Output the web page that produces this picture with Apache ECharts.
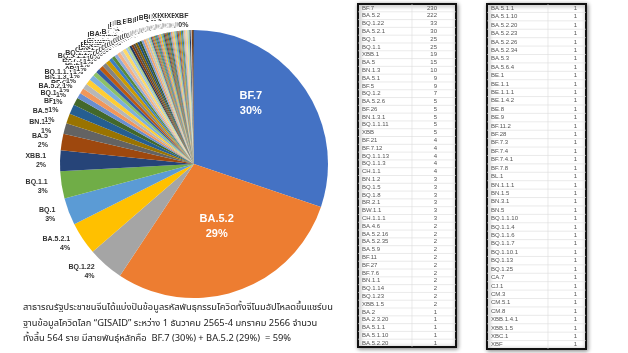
<!DOCTYPE html>
<html>
<head>
<meta charset="utf-8">
<script src="https://cdn.jsdelivr.net/npm/echarts@6/dist/echarts.min.js"></script>
<style>
  html, body { margin: 0; padding: 0; background: #fff; }
  #chart { width: 628px; height: 353px; }
</style>
</head>
<body>
<div id="chart"></div>
<script>
// left table (as shown in the screenshot)
const leftNames = ['BF.7', 'BA.5.2', 'BQ.1.22', 'BA.5.2.1', 'BQ.1', 'BQ.1.1', 'XBB.1', 'BA.5', 'BN.1.3', 'BA.5.1',
  'BF.5', 'BQ.1.2', 'BA.5.2.6', 'BF.26', 'BN.1.3.1', 'BQ.1.1.11', 'XBB', 'BF.21', 'BF.7.12', 'BQ.1.1.13',
  'BQ.1.1.3', 'CH.1.1', 'BN.1.2', 'BQ.1.5', 'BQ.1.8', 'BR.2.1', 'BW.1.1', 'CH.1.1.1', 'BA.4.6', 'BA.5.2.16',
  'BA.5.2.35', 'BA.5.9', 'BF.11', 'BF.27', 'BF.7.6', 'BN.1.1', 'BQ.1.14', 'BQ.1.23', 'XBB.1.5', 'BA.2',
  'BA.2.3.20', 'BA.5.1.1', 'BA.5.1.10', 'BA.5.2.20']
const leftCounts = [230, 222, 33, 30, 25, 25, 19, 15, 10, 9,
  9, 7, 5, 5, 5, 5, 5, 4, 4, 4,
  4, 4, 3, 3, 3, 3, 3, 3, 2, 2,
  2, 2, 2, 2, 2, 2, 2, 2, 2, 1,
  1, 1, 1, 1]

// right table (its first three rows repeat the end of the left one)
const rightNames = ['BA.5.1.1', 'BA.5.1.10', 'BA.5.2.20', 'BA.5.2.23', 'BA.5.2.26', 'BA.5.2.34', 'BA.5.3', 'BA.5.6.4',
  'BE.1', 'BE.1.1', 'BE.1.1.1', 'BE.1.4.2', 'BE.8', 'BE.9', 'BF.11.2', 'BF.28', 'BF.7.3', 'BF.7.4', 'BF.7.4.1',
  'BF.7.8', 'BL.1', 'BN.1.1.1', 'BN.1.5', 'BN.3.1', 'BN.5', 'BQ.1.1.10', 'BQ.1.1.4', 'BQ.1.1.6', 'BQ.1.1.7',
  'BQ.1.10.1', 'BQ.1.13', 'BQ.1.25', 'CA.7', 'CJ.1', 'CM.3', 'CM.5.1', 'CM.8', 'XBB.1.4.1', 'XBB.1.5', 'XBC.1', 'XBF']
const rightCounts = [1, 1, 1, 1, 1, 1, 1, 1,
  1, 1, 1, 1, 1, 1, 1, 1, 1, 1, 1,
  1, 1, 1, 1, 1, 1, 1, 1, 1, 1,
  1, 1, 1, 1, 1, 1, 1, 1, 1, 1, 1, 1]

const captionLines = [
  'สาธารณรัฐประชาชนจีนได้แบ่งปันข้อมูลรหัสพันธุกรรมโควิดทั้งจีโนมอัปโหลดขึ้นแชร์บน',
  'ฐานข้อมูลโควิดโลก “GISAID” ระหว่าง 1 ธันวาคม 2565-4 มกราคม 2566 จำนวน',
  'ทั้งสิ้น 564 ราย มีสายพันธุ์หลักคือ  BF.7 (30%) + BA.5.2 (29%)  = 59%'
]

// office-like palette with shade variations
const palette = [
  '#4472C4', '#ED7D31', '#A5A5A5', '#FFC000', '#5B9BD5', '#70AD47',
  '#264478', '#9E480E', '#636363', '#997300', '#255E91', '#43682B',
  '#698ED0', '#F1975A', '#B7B7B7', '#FFCD33', '#7CAFDD', '#8CC168',
  '#335AA1', '#BE5A0F', '#848484', '#CC9A00', '#3C7DC4', '#5A8A39',
  '#8FAADC', '#F4B183', '#C9C9C9', '#FFD966', '#9DC3E6', '#A9D18E',
  '#203864', '#843C0C', '#525252', '#7F6000', '#1F4E79', '#385723',
  '#7C9CD6', '#F2A46C', '#C0C0C0', '#FFD34D', '#8BB8E1', '#9BC97B',
  '#2F5496', '#C55A11', '#7B7B7B', '#BF9000', '#2E75B6', '#548235'
]

const pieNames = leftNames.concat(rightNames.slice(3))
const pieCounts = leftCounts.concat(rightCounts.slice(3))
const total = pieCounts.reduce((a, b) => a + b, 0)

const pieData = pieNames.map((name, i) => {
  const item = { name, value: pieCounts[i] }
  if (i < 2) {
    item.label = { position: 'inside', color: '#fff', fontSize: 11, lineHeight: 15 }
  }
  return item
})

function tableGraphic(names, counts, box) {
  const children = []
  const rowH = (box.bottom - box.top) / names.length
  children.push({
    type: 'rect',
    shape: { x: box.left, y: box.top, width: box.right - box.left, height: box.bottom - box.top },
    style: { fill: '#fff', stroke: '#111', lineWidth: 2, shadowBlur: 4, shadowColor: 'rgba(0,0,0,0.45)', shadowOffsetX: 1, shadowOffsetY: 1 }
  })
  names.forEach((name, i) => {
    const y = box.top + rowH * i
    if (i > 0) {
      children.push({
        type: 'line',
        shape: { x1: box.left, y1: y, x2: box.right, y2: y },
        style: { stroke: '#dcdcdc', lineWidth: 0.6 }
      })
    }
    children.push({
      type: 'text',
      style: { text: name, x: box.left + 4, y: y + rowH / 2, fontSize: 6, fill: '#555', verticalAlign: 'middle', fontFamily: 'Liberation Sans' }
    })
    children.push({
      type: 'text',
      style: { text: String(counts[i]), x: box.valueX, y: y + rowH / 2, fontSize: 6, fill: '#555', align: 'right', verticalAlign: 'middle', fontFamily: 'Liberation Sans' }
    })
  })
  children.push({
    type: 'line',
    shape: { x1: box.divider, y1: box.top, x2: box.divider, y2: box.bottom },
    style: { stroke: '#dcdcdc', lineWidth: 0.6 }
  })
  return { type: 'group', children }
}

const chart = echarts.init(document.getElementById('chart'), null, { renderer: 'canvas' })
chart.setOption({
  backgroundColor: '#fff',
  animation: false,
  color: palette,
  series: [{
    type: 'pie',
    center: [194, 164],
    radius: 134,
    startAngle: 90,
    clockwise: true,
    avoidLabelOverlap: false,
    data: pieData,
    label: {
      show: true,
      position: 'outside',
      fontSize: 7,
      lineHeight: 9,
      fontWeight: 'bold',
      fontFamily: 'Liberation Sans',
      formatter: (p) => p.name + '\n' + Math.round(p.value / total * 100) + '%'
    },
    labelLine: { show: false, length: 9, length2: 0 },
    labelLayout: (p) => (p.dataIndex === 0 ? { dy: -20 } : p.dataIndex === 1 ? { dy: -4 } : {}),
    itemStyle: { borderWidth: 0 },
    emphasis: { disabled: true }
  }],
  graphic: [
    tableGraphic(leftNames, leftCounts, { left: 358, right: 456, top: 4, bottom: 347, divider: 412, valueX: 437 }),
    tableGraphic(rightNames, rightCounts, { left: 487, right: 586, top: 4, bottom: 349, divider: 548, valueX: 577 }),
    ...captionLines.map((t, i) => ({
      type: 'text',
      style: {
        text: t, x: 23, y: [308, 324, 339][i], fontSize: 9.3, fill: '#222', verticalAlign: 'middle',
        fontFamily: 'Noto Sans Thai, Noto Sans, DejaVu Sans, sans-serif'
      }
    }))
  ]
})
</script>
</body>
</html>
